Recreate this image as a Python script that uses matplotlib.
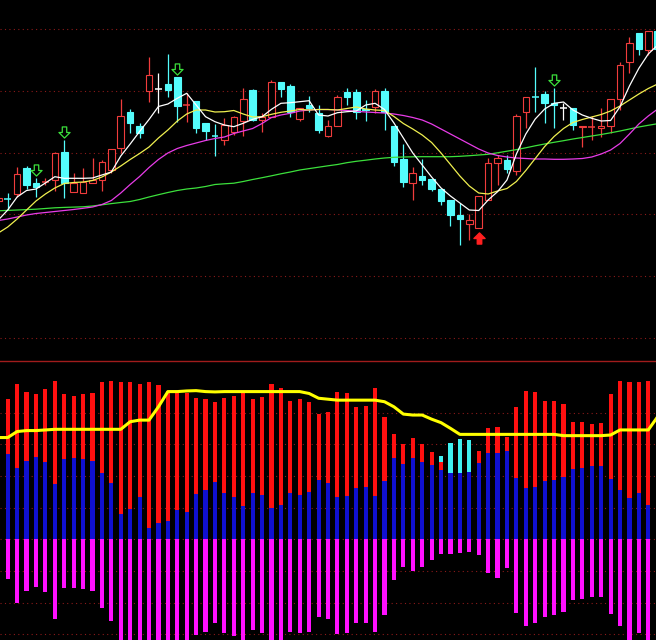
import numpy as np
import matplotlib.pyplot as plt
from matplotlib.patches import Rectangle
from matplotlib.path import Path

# bar index (-1 is the half-hidden bar at the left edge)
days = np.arange(-1, 70)

# ---- price panel (arbitrary price units) ----
opens = [16.00,
         16.22, 16.67, 19.33, 17.83, 17.90, 18.10, 20.87, 16.93, 16.77, 17.83,
         18.10, 19.10, 21.27, 24.87, 23.50, 27.03, 27.17, 27.67, 28.43, 25.57,
         26.03, 23.77, 22.53, 22.10, 22.90, 24.03, 27.10, 24.15, 24.43, 27.93,
         27.50, 24.20, 25.57, 24.80, 22.50, 23.50, 26.90, 26.90, 25.17, 25.43,
         27.00, 23.47, 20.17, 17.85, 18.50, 18.17, 17.17, 16.14, 14.60, 13.70,
         13.27, 16.10, 19.77, 20.10, 19.03, 24.87, 26.47, 26.67, 25.83, 25.27,
         25.27, 23.37, 23.40, 23.27, 23.50, 26.20, 29.93, 32.77, 31.10, 33.00]
highs = [16.45,
         16.77, 19.37, 19.53, 18.27, 18.27, 20.93, 22.10, 18.77, 19.27, 20.33,
         20.10, 21.20, 26.17, 25.20, 23.83, 30.37, 28.83, 30.70, 28.43, 26.77,
         26.03, 23.77, 23.70, 24.27, 24.50, 27.27, 27.17, 24.77, 28.10, 27.93,
         27.67, 25.27, 26.50, 25.65, 24.10, 26.60, 27.27, 27.20, 26.10, 27.17,
         27.27, 23.47, 21.70, 19.40, 20.20, 18.17, 17.17, 16.14, 15.77, 14.73,
         16.50, 20.27, 20.60, 20.60, 24.70, 26.37, 29.43, 27.03, 27.27, 25.77,
         25.27, 23.50, 24.50, 25.27, 26.17, 29.93, 32.37, 32.77, 33.00, 33.00]
lows = [15.85,
        15.10, 16.43, 17.17, 16.43, 17.60, 17.03, 16.27, 16.93, 16.77, 17.83,
        17.03, 18.77, 20.77, 22.83, 22.27, 25.93, 24.77, 26.43, 23.93, 23.93,
        22.77, 22.10, 20.47, 21.60, 22.60, 22.50, 24.03, 22.95, 24.43, 26.43,
        24.43, 24.03, 24.93, 22.77, 22.45, 23.50, 25.60, 24.20, 24.05, 24.77,
        23.10, 19.53, 17.45, 16.10, 17.60, 17.03, 15.60, 13.55, 11.65, 12.14,
        13.27, 16.10, 17.60, 18.77, 18.60, 23.27, 24.93, 23.83, 23.27, 24.10,
        23.10, 21.43, 22.10, 22.43, 22.77, 25.10, 28.83, 30.60, 30.60, 31.10]
closes = [16.33,
          16.18, 18.70, 17.60, 17.37, 17.95, 20.83, 17.83, 17.83, 17.93, 18.10,
          19.87, 21.17, 24.50, 23.83, 22.83, 28.60, 27.17, 27.10, 25.50, 25.63,
          23.33, 23.00, 22.48, 23.60, 24.40, 26.17, 24.10, 24.40, 27.93, 27.17,
          24.93, 25.27, 25.27, 23.15, 23.50, 26.43, 26.43, 24.90, 25.07, 27.00,
          24.93, 19.93, 17.93, 18.83, 18.10, 17.20, 16.00, 14.60, 14.25, 14.08,
          16.50, 19.77, 20.27, 19.17, 24.50, 26.37, 26.40, 25.77, 25.60, 25.27,
          23.60, 23.50, 23.47, 23.50, 26.17, 29.60, 31.83, 31.17, 33.00, 31.20]

ma5 = [14.10,
       15.10, 16.40, 17.05, 17.20, 17.80, 18.43, 18.27, 18.27, 18.27, 18.30,
       18.60, 18.90, 20.50, 21.70, 22.95, 24.15, 25.45, 25.70, 26.27, 26.77,
       25.60, 24.43, 23.93, 23.60, 23.43, 23.77, 24.17, 24.43, 25.17, 25.77,
       25.83, 25.93, 26.03, 24.60, 24.50, 24.83, 24.93, 25.00, 25.60, 25.77,
       25.15, 23.80, 22.30, 20.80, 19.60, 18.40, 17.30, 16.50, 15.80, 15.10,
       15.05, 16.10, 16.93, 18.10, 20.70, 22.70, 24.20, 25.20, 25.77, 25.90,
       25.10, 24.60, 24.27, 24.00, 24.05, 25.43, 27.50, 29.27, 30.70, 31.60]
ma10 = [12.80,
        13.40, 14.20, 15.10, 16.00, 16.70, 17.30, 17.75, 17.85, 17.90, 18.05,
        18.40, 18.90, 19.50, 20.15, 20.75, 21.40, 22.30, 23.10, 24.00, 24.70,
        25.10, 25.10, 24.90, 24.93, 25.05, 24.70, 24.40, 24.43, 24.67, 24.87,
        25.00, 25.15, 25.10, 25.15, 25.15, 25.10, 25.25, 25.40, 25.20, 25.10,
        25.05, 24.45, 23.75, 23.20, 22.60, 21.85, 20.80, 19.65, 18.50, 17.50,
        16.80, 16.70, 17.00, 17.25, 17.95, 19.05, 20.25, 21.45, 22.45, 23.25,
        23.85, 24.15, 24.40, 24.65, 25.00, 25.50, 26.10, 26.70, 27.25, 27.70]
ma20 = [14.05,
        14.20, 14.40, 14.60, 14.75, 14.85, 14.95, 15.05, 15.15, 15.27, 15.40,
        15.65, 16.05, 16.80, 17.65, 18.45, 19.35, 20.15, 20.80, 21.25, 21.55,
        21.80, 22.05, 22.25, 22.40, 22.75, 23.00, 23.25, 23.75, 24.35, 24.60,
        24.77, 25.00, 25.10, 25.15, 25.15, 25.10, 25.05, 24.97, 24.90, 24.85,
        24.80, 24.70, 24.55, 24.35, 24.10, 23.70, 23.20, 22.70, 22.20, 21.70,
        21.20, 20.80, 20.55, 20.40, 20.30, 20.25, 20.20, 20.20, 20.17, 20.17,
        20.20, 20.25, 20.40, 20.70, 21.10, 21.75, 22.70, 23.70, 24.50, 25.20]
ma60 = [15.02,
        15.06, 15.10, 15.14, 15.18, 15.25, 15.32, 15.36, 15.39, 15.42, 15.50,
        15.62, 15.74, 15.85, 15.95, 16.15, 16.40, 16.63, 16.85, 17.05, 17.20,
        17.30, 17.45, 17.65, 17.72, 17.78, 17.95, 18.15, 18.33, 18.52, 18.72,
        18.90, 19.10, 19.24, 19.38, 19.52, 19.65, 19.83, 19.97, 20.08, 20.20,
        20.30, 20.37, 20.40, 20.42, 20.43, 20.43, 20.43, 20.43, 20.47, 20.53,
        20.60, 20.67, 20.82, 20.98, 21.14, 21.32, 21.52, 21.70, 21.87, 22.03,
        22.20, 22.35, 22.50, 22.65, 22.82, 23.00, 23.20, 23.40, 23.57, 23.73]

sell_signals = [3, 6, 18, 58]
buy_signals = [50]

# ---- indicator panel ----
red_vals = [44.0,
            44.2, 48.9, 46.6, 45.7, 47.3, 49.9, 45.7, 45.3, 45.8, 46.0,
            49.5, 49.9, 49.7, 49.5, 48.9, 49.5, 48.7, 46.8, 46.0, 46.0,
            44.5, 44.2, 43.4, 44.7, 45.3, 46.9, 44.2, 44.8, 48.9, 47.6,
            43.6, 44.2, 43.2, 39.5, 40.1, 46.4, 46.0, 41.6, 42.1, 47.6,
            38.7, 33.1, 30.0, 31.9, 30.0, 27.6, 24.5, 0.0, 0.0, 0.0,
            27.9, 35.0, 35.5, 32.4, 41.6, 46.9, 46.4, 43.7, 43.6, 42.6,
            36.9, 36.9, 36.3, 36.6, 45.7, 49.9, 49.5, 49.5, 49.9, 49.0]
cyan_vals = [0.0] * 47 + [26.3, 30.3, 31.5, 31.3] + [0.0] * 20
blue_vals = [27.0,
             26.8, 22.4, 24.7, 25.9, 24.3, 17.4, 25.2, 25.5, 25.2, 24.8,
             20.8, 17.9, 8.0, 9.5, 13.5, 3.5, 5.0, 5.8, 9.2, 8.7,
             14.2, 15.6, 18.0, 14.5, 13.2, 10.5, 14.5, 14.0, 9.8, 10.8,
             14.5, 14.0, 14.8, 18.7, 17.7, 13.2, 13.7, 16.3, 16.6, 13.7,
             18.5, 25.5, 23.6, 25.5, 24.3, 23.4, 21.9, 20.8, 21.0, 21.3,
             24.0, 27.3, 27.1, 27.9, 19.2, 16.1, 16.6, 18.4, 18.7, 19.8,
             22.2, 22.6, 23.1, 23.1, 18.9, 15.6, 12.9, 14.5, 10.8, 10.0]
mag_vals = [-13.0,
            -12.6, -20.0, -16.2, -15.2, -16.7, -25.2, -15.5, -15.5, -15.8, -16.2,
            -21.8, -25.8, -33.0, -33.0, -33.0, -35.0, -34.0, -33.0, -33.0, -33.0,
            -30.2, -29.1, -26.3, -29.5, -30.5, -33.0, -28.6, -29.5, -33.0, -33.0,
            -29.1, -29.7, -29.1, -24.6, -25.2, -29.9, -29.7, -26.5, -26.5, -29.1,
            -23.9, -12.8, -8.6, -10.0, -8.6, -6.5, -4.7, -4.7, -4.4, -4.1,
            -5.0, -10.7, -12.1, -9.0, -23.1, -27.2, -26.5, -24.4, -23.9, -23.0,
            -19.1, -18.9, -18.3, -18.1, -23.7, -27.2, -33.0, -29.5, -33.0, -33.0]
yellow_line = [32.1,
               32.1, 34.0, 34.3, 34.3, 34.5, 34.7, 34.7, 34.7, 34.7, 34.7,
               34.7, 34.7, 34.7, 37.1, 37.6, 37.6, 41.8, 46.6, 46.6, 46.8,
               46.9, 46.6, 46.5, 46.6, 46.6, 46.6, 46.6, 46.6, 46.6, 46.6,
               46.6, 46.6, 46.0, 44.5, 44.2, 43.9, 43.9, 43.9, 43.9, 43.9,
               43.4, 41.8, 39.5, 39.2, 39.2, 37.9, 36.8, 35.0, 33.1, 33.1,
               33.1, 33.1, 33.1, 33.1, 33.1, 33.1, 33.1, 33.1, 33.1, 32.7,
               32.7, 32.7, 32.7, 32.7, 32.9, 34.5, 34.5, 34.5, 34.5, 38.7]

up_col = '#f03c3c'
down_col = '#54fcfc'
grid_col = '#8c1a1a'

fig = plt.figure(figsize=(6.56, 6.40), dpi=100, facecolor='black')
ax1 = fig.add_axes([0, 279 / 640, 1, 361 / 640])
ax2 = fig.add_axes([0, 0, 1, 279 / 640])

for ax in (ax1, ax2):
    ax.set_facecolor('black')
    ax.set_xlim(-0.82, 68.82)
    ax.set_xticks([])
    ax.set_yticks([])
    for s in ax.spines.values():
        s.set_visible(False)

# price panel
ax1.set_ylim(0, 36.1)
for g in 2.33 + 6.168 * np.arange(6):
    ax1.axhline(g, color=grid_col, lw=0.8, ls=(0, (1, 3)), zorder=1)

w = 0.7
for x, o, h, l, c in zip(days, opens, highs, lows, closes):
    if c > o:
        col = up_col
    elif c < o:
        col = down_col
    else:
        col = 'white'
    ax1.vlines(x, l, h, color=col, lw=0.9, zorder=2)
    if abs(c - o) < 0.08:
        ax1.hlines((o + c) / 2, x - w / 2, x + w / 2, color=col, lw=1.1, zorder=3)
    else:
        face = 'black' if c > o else col
        ax1.add_patch(Rectangle((x - w / 2, min(o, c)), w, abs(c - o),
                                facecolor=face, edgecolor=col, lw=0.8, zorder=3))

ax1.plot(days, ma60, color='#3ce03c', lw=0.9, zorder=4)
ax1.plot(days, ma20, color='#e83ce8', lw=0.9, zorder=4)
ax1.plot(days, ma10, color='#f0f050', lw=0.9, zorder=4)
ax1.plot(days, ma5, color='white', lw=0.9, zorder=4)

down_arrow = Path([(-0.2, 0.5), (0.2, 0.5), (0.2, 0.0), (0.5, 0.0), (0.0, -0.5),
                   (-0.5, 0.0), (-0.2, 0.0), (-0.2, 0.5)], closed=True)
up_arrow = Path([(-0.2, -0.5), (0.2, -0.5), (0.2, 0.0), (0.5, 0.0), (0.0, 0.5),
                 (-0.5, 0.0), (-0.2, 0.0), (-0.2, -0.5)], closed=True)
hi = dict(zip(days, highs))
lo = dict(zip(days, lows))
ax1.plot(sell_signals, [hi[i] + 0.8 for i in sell_signals], ls='none',
         marker=down_arrow, markersize=8, markerfacecolor='none',
         markeredgecolor='#3ce03c', markeredgewidth=0.9, zorder=5)
ax1.plot(buy_signals, [lo[i] - 0.95 for i in buy_signals], ls='none',
         marker=up_arrow, markersize=8, markerfacecolor='#ff2020',
         markeredgecolor='#ff2020', zorder=5)

# indicator panel
ax2.set_ylim(-31.77, 56.25)
for g in np.arange(-30, 41, 10):
    ax2.axhline(g, color=grid_col, lw=0.8, ls=(0, (1, 3)), zorder=1)
ax2.spines['top'].set_visible(True)
ax2.spines['top'].set_color('#a01c1c')
ax2.spines['top'].set_linewidth(1.0)

bw = 0.44
ax2.bar(days, cyan_vals, width=bw, color='#40f0f0', lw=0, zorder=2)
ax2.bar(days, red_vals, width=bw, color='#ff1010', lw=0, zorder=2)
ax2.bar(days, blue_vals, width=bw, color='#1010d0', lw=0, zorder=3)
ax2.bar(days, mag_vals, width=bw, color='#ff10ff', lw=0, zorder=3)
ax2.plot(days, yellow_line, color='#ffff00', lw=2.2, zorder=5)

fig.savefig('out.png', dpi=100, facecolor='black')
